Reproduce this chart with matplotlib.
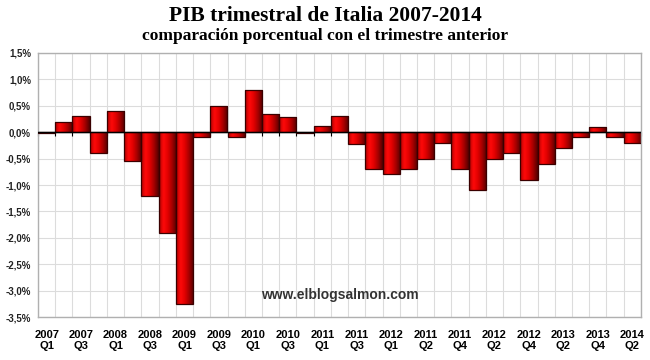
import numpy as np
import matplotlib.pyplot as plt
from matplotlib.colors import LinearSegmentedColormap

# --- Datos: variación trimestral del PIB de Italia (%) ---
valores = [-0.01, 0.2, 0.3, -0.4, 0.4, -0.55, -1.2, -1.9, -3.25, -0.1,
           0.5, -0.1, 0.8, 0.35, 0.28, -0.01, 0.12, 0.3, -0.22, -0.7,
           -0.8, -0.7, -0.5, -0.2, -0.7, -1.1, -0.5, -0.4, -0.9, -0.6,
           -0.3, -0.1, 0.1, -0.1, -0.2]
etiquetas = ['2007\nQ1', '2007\nQ3', '2008\nQ1', '2008\nQ3', '2009\nQ1', '2009\nQ3',
             '2010\nQ1', '2010\nQ3', '2011\nQ1', '2011\nQ3', '2012\nQ1', '2011\nQ2',
             '2011\nQ4', '2012\nQ2', '2012\nQ4', '2013\nQ2', '2013\nQ4', '2014\nQ2']
yticks = [1.5, 1.0, 0.5, 0.0, -0.5, -1.0, -1.5, -2.0, -2.5, -3.0, -3.5]

fig = plt.figure(figsize=(6.5, 3.6), dpi=100)
ax = fig.add_axes([0.0585, 0.119, 0.9275, 0.734])

x = np.arange(len(valores))
bars = ax.bar(x, valores, width=1.0, color='none', edgecolor='#3a0000',
              linewidth=0.9, zorder=3)

# degradado rojo en cada barra
cmap = LinearSegmentedColormap.from_list('rojo', ['#b00000', '#ff0a0a', '#e00000',
                                                  '#a00000', '#500000'])
grad = np.linspace(0, 1, 64).reshape(1, -1)
for b in bars:
    x0, y0 = b.get_x(), b.get_y()
    w, h = b.get_width(), b.get_height()
    im = ax.imshow(grad, extent=[x0, x0 + w, min(y0, y0 + h), max(y0, y0 + h)],
                   cmap=cmap, aspect='auto', zorder=2, interpolation='bicubic')
    im.set_clip_path(b)

ax.set_xlim(-0.5, len(valores) - 0.5)
ax.set_ylim(-3.5, 1.5)

# rejilla
for xb in np.arange(-0.5, len(valores), 1.0):
    ax.axvline(xb, color='#dcdcdc', lw=0.8, zorder=0)
for yv in yticks:
    ax.axhline(yv, color='#dcdcdc', lw=0.8, zorder=0)
ax.axhline(0, color='black', lw=1.0, zorder=4)

# eje de categorías en el cero con marcas
sec = ax.secondary_xaxis(3.5 / 5.0)
sec.set_xticks(np.arange(-0.5, len(valores), 1.0))
sec.set_xticklabels([])
sec.tick_params(direction='in', length=3, width=0.8, color='black')
sec.spines['bottom'].set_visible(False)
sec.spines['top'].set_visible(False)

ax.set_yticks(yticks)
ax.set_yticklabels([f'{v:.1f}%'.replace('.', ',') for v in yticks],
                   fontsize=7, fontweight='bold', family='Liberation Sans', color='#222222')
ax.set_xticks(x[::2])
ax.set_xticklabels(etiquetas, fontsize=8, fontweight='bold', family='Liberation Sans',
                   linespacing=1.15)
ax.tick_params(axis='both', length=0, pad=5)
ax.tick_params(axis='x', pad=9)
for s in ax.spines.values():
    s.set_color('#b0b0b0')
    s.set_linewidth(1.0)

fig.text(0.5, 0.955, 'PIB trimestral de Italia 2007-2014', ha='center', va='center',
         fontsize=15.5, fontweight='bold', family='Liberation Serif')
fig.text(0.5, 0.9, 'comparación porcentual con el trimestre anterior', ha='center',
         va='center', fontsize=12.5, fontweight='bold', family='Liberation Serif')
ax.text(0.5, 0.085, 'www.elblogsalmon.com', transform=ax.transAxes, ha='center',
        va='center', fontsize=10, fontweight='bold', family='Liberation Sans',
        color='#333333', zorder=5)

fig.savefig('out.png', dpi=100)
